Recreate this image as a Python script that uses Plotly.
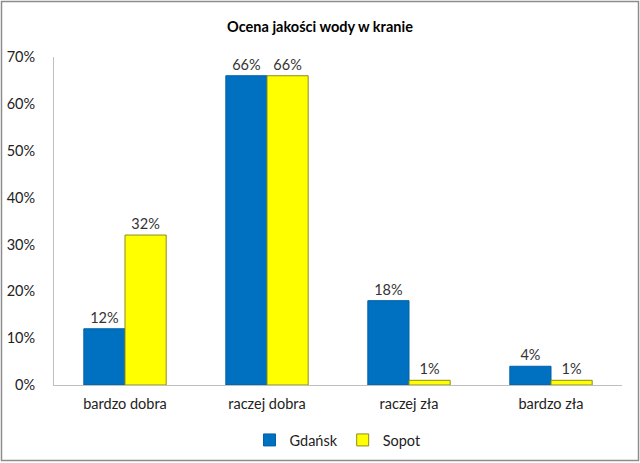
import plotly.graph_objects as go

categories = ["bardzo dobra", "raczej dobra", "raczej zła", "bardzo zła"]
gdansk = [12, 66, 18, 4]
sopot = [32, 66, 1, 1]
y_ticks = [0, 10, 20, 30, 40, 50, 60, 70]

W, H = 640, 463
ML, MR, MT, MB = 54, 18, 57, 78
PW, PH = W - ML - MR, H - MT - MB

font = "Lato, Carlito, Calibri, sans-serif"
FS = 14.5

fig = go.Figure()
fig.add_trace(go.Bar(
    name="Gdańsk", x=categories, y=gdansk,
    marker=dict(color="#0070C0", line=dict(color="#0062A8", width=1)),
    texttemplate="%{y}%", textposition="outside",
    textfont=dict(size=FS, color="#333333", family=font), cliponaxis=False,
))
fig.add_trace(go.Bar(
    name="Sopot", x=categories, y=sopot,
    marker=dict(color="#FFFF00", line=dict(color="#8C8C1E", width=1)),
    texttemplate="%{y}%", textposition="outside",
    textfont=dict(size=FS, color="#333333", family=font), cliponaxis=False,
))

# outer frame in paper coords
x0 = (1.5 - ML) / PW
x1 = (638.5 - ML) / PW
y1 = (H - MB - 1.5) / PH
y0 = (H - MB - 460.5) / PH
fig.add_shape(type="rect", xref="paper", yref="paper", x0=x0, x1=x1, y0=y0, y1=y1,
              line=dict(color="#8C8C8C", width=1.5), fillcolor="rgba(0,0,0,0)", layer="below")

fig.update_layout(
    width=W, height=H,
    margin=dict(l=ML, r=MR, t=MT, b=MB, autoexpand=False),
    paper_bgcolor="white", plot_bgcolor="white",
    barmode="group", bargap=0.42, bargroupgap=0,
    title=dict(text="<b>Ocena jakości wody w kranie</b>", x=0.5, xanchor="center",
               y=1 - 27 / H, yanchor="middle", yref="container",
               font=dict(size=14.5, color="#000000", family=font)),
    font=dict(family=font, size=FS, color="#222222"),
    showlegend=True,
    legend=dict(orientation="h", x=0.5, xanchor="center", y=(H - MB - 440) / PH,
                yanchor="middle", font=dict(size=FS, family=font, color="#222222"),
                itemwidth=30, traceorder="normal", tracegroupgap=0),
    xaxis=dict(showline=True, linecolor="#BFBFBF", linewidth=1, ticks="", automargin=False,
               tickfont=dict(size=FS, family=font, color="#222222"), ticklabelstandoff=6),
    yaxis=dict(range=[0, 70], tickvals=y_ticks, ticktext=[f"{v}%" for v in y_ticks],
               showgrid=False, zeroline=False, showline=True, linecolor="#BFBFBF",
               linewidth=1, ticks="", ticklabelstandoff=15, automargin=False,
               tickfont=dict(size=FS, family=font, color="#222222")),
)

fig.write_html("out.html")
